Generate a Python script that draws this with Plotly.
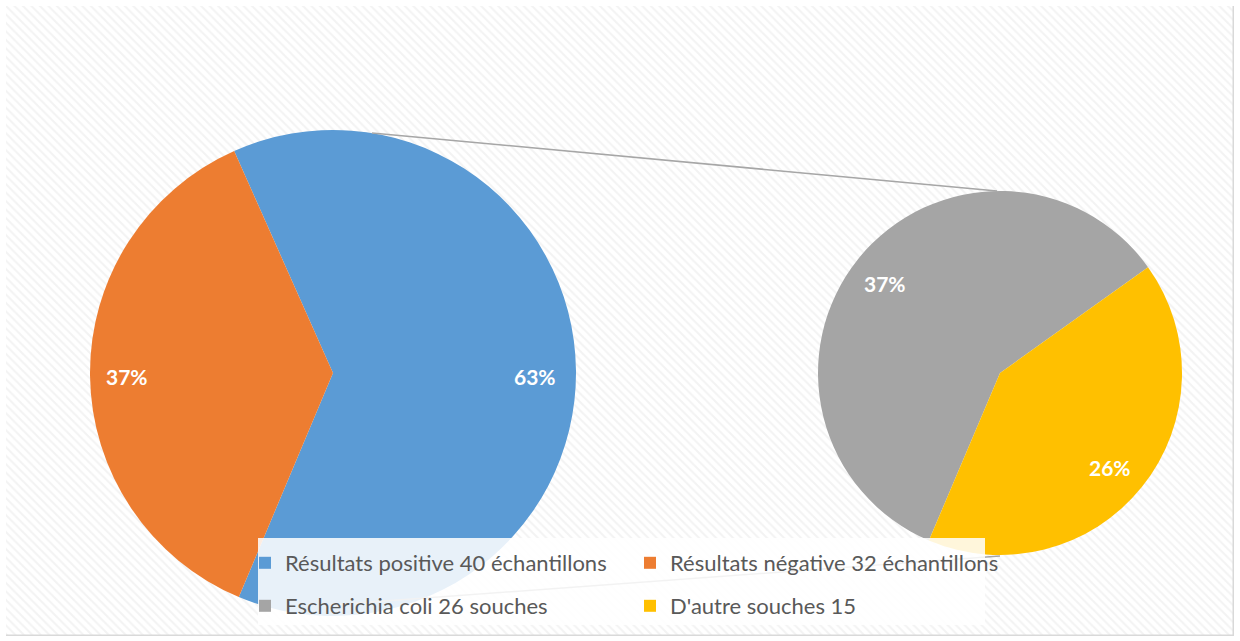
import plotly.graph_objects as go

W, H = 1240, 641

# ---- data ----
main_labels = ["Résultats positive 40 échantillons", "Résultats négative 32 échantillons"]
main_values = [63, 37]
main_colors = ["#5B9BD5", "#ED7D31"]

sub_labels = ["Escherichia coli 26 souches", "D'autre souches 15"]
sub_values = [37, 26]
sub_colors = ["#A5A5A5", "#FFC000"]


def px(x):
    return x / W


def py(y):
    return 1 - y / H


fig = go.Figure()

# textured chart background (decoration)
fig.add_trace(go.Bar(
    x=[0], y=[1], width=[1], showlegend=False, hoverinfo="skip",
    marker=dict(color="white", line=dict(color="#d9d9d9", width=1.5),
                pattern=dict(shape="\\", fgcolor="#e8e8e8", bgcolor="white",
                             size=6, solidity=0.35)),
))

fig.add_trace(go.Pie(
    labels=main_labels, values=main_values, sort=False,
    direction="clockwise", rotation=-24,
    marker=dict(colors=main_colors, line=dict(width=0)),
    textinfo="none", hoverinfo="label+percent",
    domain=dict(x=[px(90), px(576)], y=[py(616), py(130)]),
    legend="legend",
))

fig.add_trace(go.Pie(
    labels=sub_labels, values=sub_values, sort=False,
    direction="clockwise", rotation=203,
    marker=dict(colors=sub_colors, line=dict(width=0)),
    textinfo="none", hoverinfo="label+percent",
    domain=dict(x=[px(818), px(1182)], y=[py(555), py(191)]),
    legend="legend2",
))

# percentage labels
label_pos = [(535, 376), (127, 376), (885, 284), (1110, 467)]
texts = [f"{v}%" for v in main_values + sub_values]
annotations = []
for (xx, yy), t in zip(label_pos, texts):
    annotations.append(dict(
        x=px(xx), y=py(yy), xref="paper", yref="paper", text=f"<b>{t}</b>",
        showarrow=False, xanchor="center", yanchor="middle",
        font=dict(family="Lato, Open Sans, sans-serif", size=21, color="white"),
    ))

shapes = [
    # connector lines (pie of pie)
    dict(type="line", xref="paper", yref="paper",
         x0=px(372), y0=py(133), x1=px(997), y1=py(191),
         line=dict(color="#a6a6a6", width=1.5), layer="above"),
    dict(type="line", xref="paper", yref="paper",
         x0=px(330), y0=py(605), x1=px(1000), y1=py(556),
         line=dict(color="#a6a6a6", width=1.5), layer="above"),
    # legend box
    dict(type="rect", xref="paper", yref="paper",
         x0=px(258), y0=py(625), x1=px(985), y1=py(538),
         fillcolor="rgba(255,255,255,0.86)", line=dict(width=0), layer="above"),
]

legend_font = dict(family="Lato, Open Sans, sans-serif", size=22, color="#595959")

fig.update_layout(
    width=W, height=H,
    margin=dict(l=0, r=0, t=0, b=0),
    paper_bgcolor="white",
    plot_bgcolor="rgba(0,0,0,0)",
    xaxis=dict(domain=[px(6), px(1234)], range=[-0.5, 0.5], visible=False, fixedrange=True),
    yaxis=dict(domain=[py(636), py(6)], range=[0, 1], visible=False, fixedrange=True),
    bargap=0,
    annotations=annotations,
    shapes=shapes,
    legend=dict(orientation="h", x=px(245), y=py(563), xanchor="left", yanchor="middle",
                bgcolor="rgba(0,0,0,0)", font=legend_font, entrywidth=340,
                entrywidthmode="pixels", traceorder="normal"),
    legend2=dict(orientation="h", x=px(245), y=py(606), xanchor="left", yanchor="middle",
                 bgcolor="rgba(0,0,0,0)", font=legend_font, entrywidth=340,
                 entrywidthmode="pixels", traceorder="normal"),
)

fig.write_html("out.html", config={"displayModeBar": False},
               post_script="document.body.style.margin='0px';")
